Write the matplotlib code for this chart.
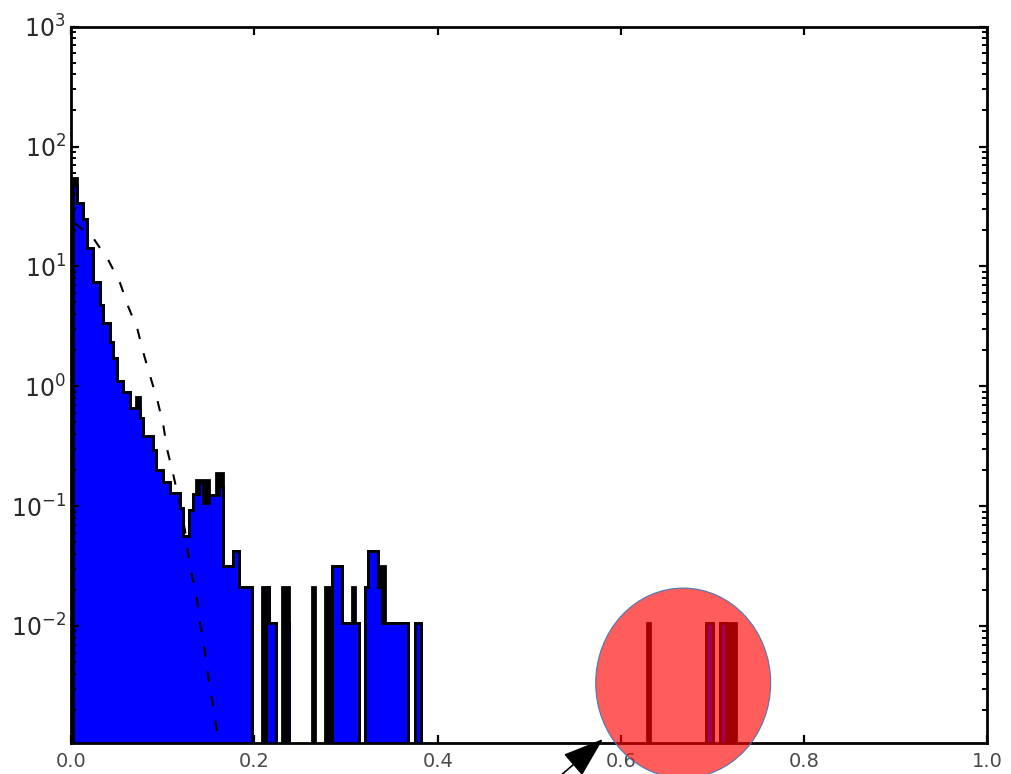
import numpy as np
import matplotlib
matplotlib.use("Agg")
import matplotlib.pyplot as plt
from matplotlib.patches import Ellipse
from matplotlib.ticker import FixedLocator, FormatStrFormatter, LogFormatterSciNotation

# ---------------- data ----------------
n_bins = 200
x_min, x_max = 0.0024, 0.7260          # histogram range

# density of the blue (filled) histogram, bins 0..104
blue_head = [47.9, 33.9, 33.9, 24.9, 14.3, 14.3, 7.44, 7.44, 4.78, 3.38,
             3.38, 2.35, 1.73, 1.11, 1.11, 0.898, 0.898, 0.660, 0.660, 0.660,
             0.545, 0.386, 0.386, 0.386, 0.295, 0.201, 0.201, 0.160, 0.160, 0.129,
             0.129, 0.129, 0.096, 0.0565, 0.0565, 0.093, 0.126, 0.126, 0.156, 0.106,
             0.106, 0.124, 0.124, 0.124, 0.145, 0.0317, 0.0317, 0.0317, 0.0423, 0.0423,
             0.0211, 0.0211, 0.0211, 0.0211, 0, 0, 0, 0, 0.0211, 0.0106,
             0.0106, 0, 0, 0, 0.0106, 0, 0, 0, 0, 0,
             0, 0, 0, 0, 0, 0, 0, 0, 0.0317, 0.0317,
             0.0317, 0.0106, 0.0106, 0.0106, 0.0106, 0.0106, 0, 0, 0.0211, 0.0423,
             0.0423, 0.0423, 0.0211, 0.0106, 0.0106, 0.0106, 0.0106, 0.0106, 0.0106, 0.0106,
             0.0106, 0, 0, 0.0106, 0.0106]
blue_tail_bins = [191, 192, 195, 196]
blue_tail_vals = [0.0106, 0.0106, 0.0106, 0.0106]

# bins where the black histogram lies above the blue one
black_extra_bins = [0, 19, 37, 38, 39, 40, 43, 44, 57, 58, 63, 64, 72, 76, 77,
                    84, 92, 93, 173, 197, 198, 199]
black_extra_vals = [55.0, 0.82, 0.166, 0.166, 0.166, 0.166, 0.19, 0.19, 0.0211, 0.0211,
                    0.0211, 0.0211, 0.0211, 0.0211, 0.0211, 0.0211, 0.0317, 0.0317,
                    0.0106, 0.0106, 0.0106, 0.0106]

# dashed reference curve
curve_x = [0.0040, 0.0240, 0.0404, 0.0532, 0.0622, 0.0721, 0.0794, 0.0867, 0.0939,
           0.1004, 0.1048, 0.1114, 0.1179, 0.1241, 0.1267, 0.1307, 0.1369, 0.1398,
           0.1449, 0.1485, 0.1525, 0.1569, 0.1605, 0.1640]
curve_y = [22.9, 17.2, 11.3, 7.28, 4.61, 3.01, 1.82, 1.17, 0.769,
           0.475, 0.294, 0.182, 0.109, 0.063, 0.0447, 0.0282, 0.0182, 0.0112,
           0.0069, 0.00427, 0.00275, 0.0017, 0.00112, 0.0008]

x_ticks = [0.0, 0.2, 0.4, 0.6, 0.8, 1.0]
y_ticks = [1e-2, 1e-1, 1e0, 1e1, 1e2, 1e3]

# ---------------- build ----------------
edges = np.linspace(x_min, x_max, n_bins + 1)
blue = np.zeros(n_bins)
blue[:len(blue_head)] = blue_head
blue[blue_tail_bins] = blue_tail_vals
black = blue.copy()
black[black_extra_bins] = black_extra_vals

base = 1e-6

fig = plt.figure(figsize=(10.12, 7.74), dpi=100)
W, H = 1012, 774
ax = fig.add_axes([71.3 / W, 1 - 743.3 / H, (987.3 - 71.3) / W, (743.3 - 26.7) / H])
ax.set_yscale("log")

ax.stairs(np.where(black > 0, black, base), edges, baseline=base, fill=True,
          facecolor="black", edgecolor="black", linewidth=2.0, zorder=1)
ax.stairs(np.where(blue > 0, blue, base), edges, baseline=base, fill=True,
          facecolor="#0000ff", edgecolor="black", linewidth=2.0, zorder=1.5)
ax.plot(curve_x, curve_y, color="black", lw=1.5, linestyle=(0, (5, 7)), zorder=3)

ax.set_xlim(0, 1)
ax.set_ylim(1.05e-3, 1e3)
ax.xaxis.set_major_locator(FixedLocator(x_ticks))
ax.xaxis.set_major_formatter(FormatStrFormatter("%.1f"))
ax.yaxis.set_major_locator(FixedLocator(y_ticks))
ax.yaxis.set_major_formatter(LogFormatterSciNotation())

for s in ax.spines.values():
    s.set_linewidth(2.0)
ax.tick_params(which="both", direction="in", top=True, right=True)
ax.tick_params(which="major", length=6, width=1.6)
ax.tick_params(which="minor", length=3.5, width=1.4)
ax.tick_params(axis="x", which="major", labelsize=14, pad=6, labelcolor="#4a4a4a")
ax.tick_params(axis="y", which="major", labelsize=17, pad=4, labelcolor="#2a2a2a")

# annotation: red ellipse and arrow
ell = Ellipse((0.668, 0.0841), 0.191, 0.265, transform=ax.transAxes,
              facecolor=(1, 0, 0, 0.64), edgecolor="#4a78b5", lw=0.8,
              clip_on=False, zorder=10)
ax.add_patch(ell)
ax.annotate("", xy=(603, 35), xycoords="figure pixels",
            xytext=(552, -9), textcoords="figure pixels",
            arrowprops=dict(arrowstyle="-|>,head_length=2.6,head_width=0.9",
                            mutation_scale=10, color="black", lw=1.2,
                            shrinkA=0, shrinkB=0),
            annotation_clip=False, zorder=11)

fig.savefig("out.png", dpi=100, facecolor="white")
